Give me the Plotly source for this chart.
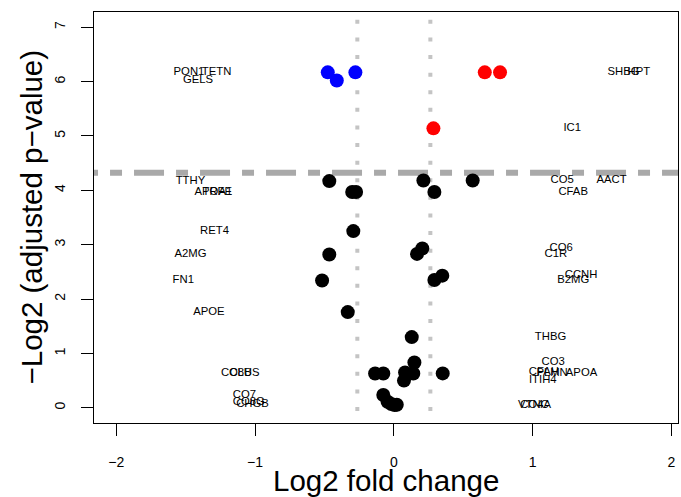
import math
import plotly.graph_objects as go

# Proteins: log2 fold change and -log2 adjusted p-value
proteins = ["PON1", "GELS", "TETN", "SHBG", "HPT", "IC1",
            "TTHY", "APOA1", "TRFE", "CO5", "AACT", "CFAB",
            "RET4", "A2MG", "FN1", "APOE", "CO6", "C1R",
            "CCNH", "B2MG", "THBG", "CO3", "CFAH", "PLMN",
            "APOA", "ITIH4", "CO8B", "CLUS", "CO7", "CO8G",
            "CHGB", "VTNC", "CO4A"]
log2_fc = [-0.476, -0.411, -0.277, 0.655, 0.765, 0.285,
           -0.465, -0.300, -0.272, 0.213, 0.568, 0.292,
           -0.292, -0.465, -0.517, -0.332, 0.205, 0.167,
           0.349, 0.292, 0.129, 0.148, 0.081, 0.140,
           0.352, 0.073, -0.135, -0.076, -0.076, -0.045,
           -0.018, 0.005, 0.021]
neg_log2_p = [6.17, 6.02, 6.17, 6.17, 6.17, 5.14,
              4.17, 3.97, 3.97, 4.18, 4.18, 3.97,
              3.25, 2.82, 2.34, 1.76, 2.93, 2.83,
              2.43, 2.35, 1.30, 0.834, 0.65, 0.63,
              0.632, 0.50, 0.63, 0.63, 0.234, 0.11,
              0.07, 0.05, 0.055]

x_ticks = [-2, -1, 0, 1, 2]
y_ticks = [0, 1, 2, 3, 4, 5, 6, 7]

fc_cut = math.log2(1.2)       # fold-change threshold
p_cut = -math.log2(0.05)      # significance threshold

FONT = "Liberation Sans, Arial, Helvetica, sans-serif"

colors = []
for fc, p in zip(log2_fc, neg_log2_p):
    if p > p_cut and fc > fc_cut:
        colors.append("#FF0000")
    elif p > p_cut and fc < -fc_cut:
        colors.append("#0000FF")
    else:
        colors.append("#000000")

# labels are shifted one unit away from zero along x
label_x = [fc + 1 if fc > 0 else fc - 1 for fc in log2_fc]

fig = go.Figure()

fig.add_trace(go.Scatter(
    x=label_x, y=neg_log2_p, mode="text", text=proteins,
    textposition="middle center",
    textfont=dict(family=FONT, size=11.3, color="black"),
    hoverinfo="skip", showlegend=False))

fig.add_trace(go.Scatter(
    x=log2_fc, y=neg_log2_p, mode="markers",
    marker=dict(size=14, color=colors, line=dict(width=0)),
    text=proteins, showlegend=False))

# threshold guides
for xv in (-fc_cut, fc_cut):
    fig.add_shape(type="line", xref="x", yref="y",
                  x0=xv, x1=xv, y0=-0.06, y1=7.4,
                  line=dict(color="#C4C4C4", width=4, dash="4px,13.6px"),
                  layer="below")
fig.add_shape(type="line", xref="x", yref="y",
              x0=-2.52, x1=2.6, y0=p_cut, y1=p_cut,
              line=dict(color="#A9A9A9", width=6, dash="12px,12px,30px,12px"),
              layer="below")

fig.update_layout(
    width=681, height=497,
    margin=dict(l=94, r=3, t=12, b=74),
    paper_bgcolor="white", plot_bgcolor="white",
    font=dict(family=FONT, color="black"),
    xaxis=dict(range=[-2.16, 2.047], tickvals=x_ticks,
               showgrid=False, zeroline=False,
               showline=True, mirror=True, linecolor="black", linewidth=1,
               ticks="outside", ticklen=12, tickcolor="black",
               tickfont=dict(family=FONT, size=14, color="black"),
               ticklabelstandoff=14),
    yaxis=dict(range=[-0.28, 7.28], tickvals=y_ticks,
               showgrid=False, zeroline=False,
               showline=True, mirror=True, linecolor="black", linewidth=1,
               ticks="outside", ticklen=12, tickcolor="black", tickangle=-90,
               tickfont=dict(family=FONT, size=14, color="black"),
               ticklabelstandoff=10),
    annotations=[
        dict(text="Log2 fold change", xref="paper", yref="paper",
             x=0.5, y=0, yshift=-57, xanchor="center", yanchor="middle",
             showarrow=False, font=dict(family=FONT, size=29.5, color="black")),
        dict(text="\u2212Log2 (adjusted p\u2212value)", xref="paper", yref="paper",
             x=0, y=0.5, xshift=-63, xanchor="center", yanchor="middle",
             textangle=-90, showarrow=False,
             font=dict(family=FONT, size=29.5, color="black")),
    ],
)

fig.write_html("out.html")
